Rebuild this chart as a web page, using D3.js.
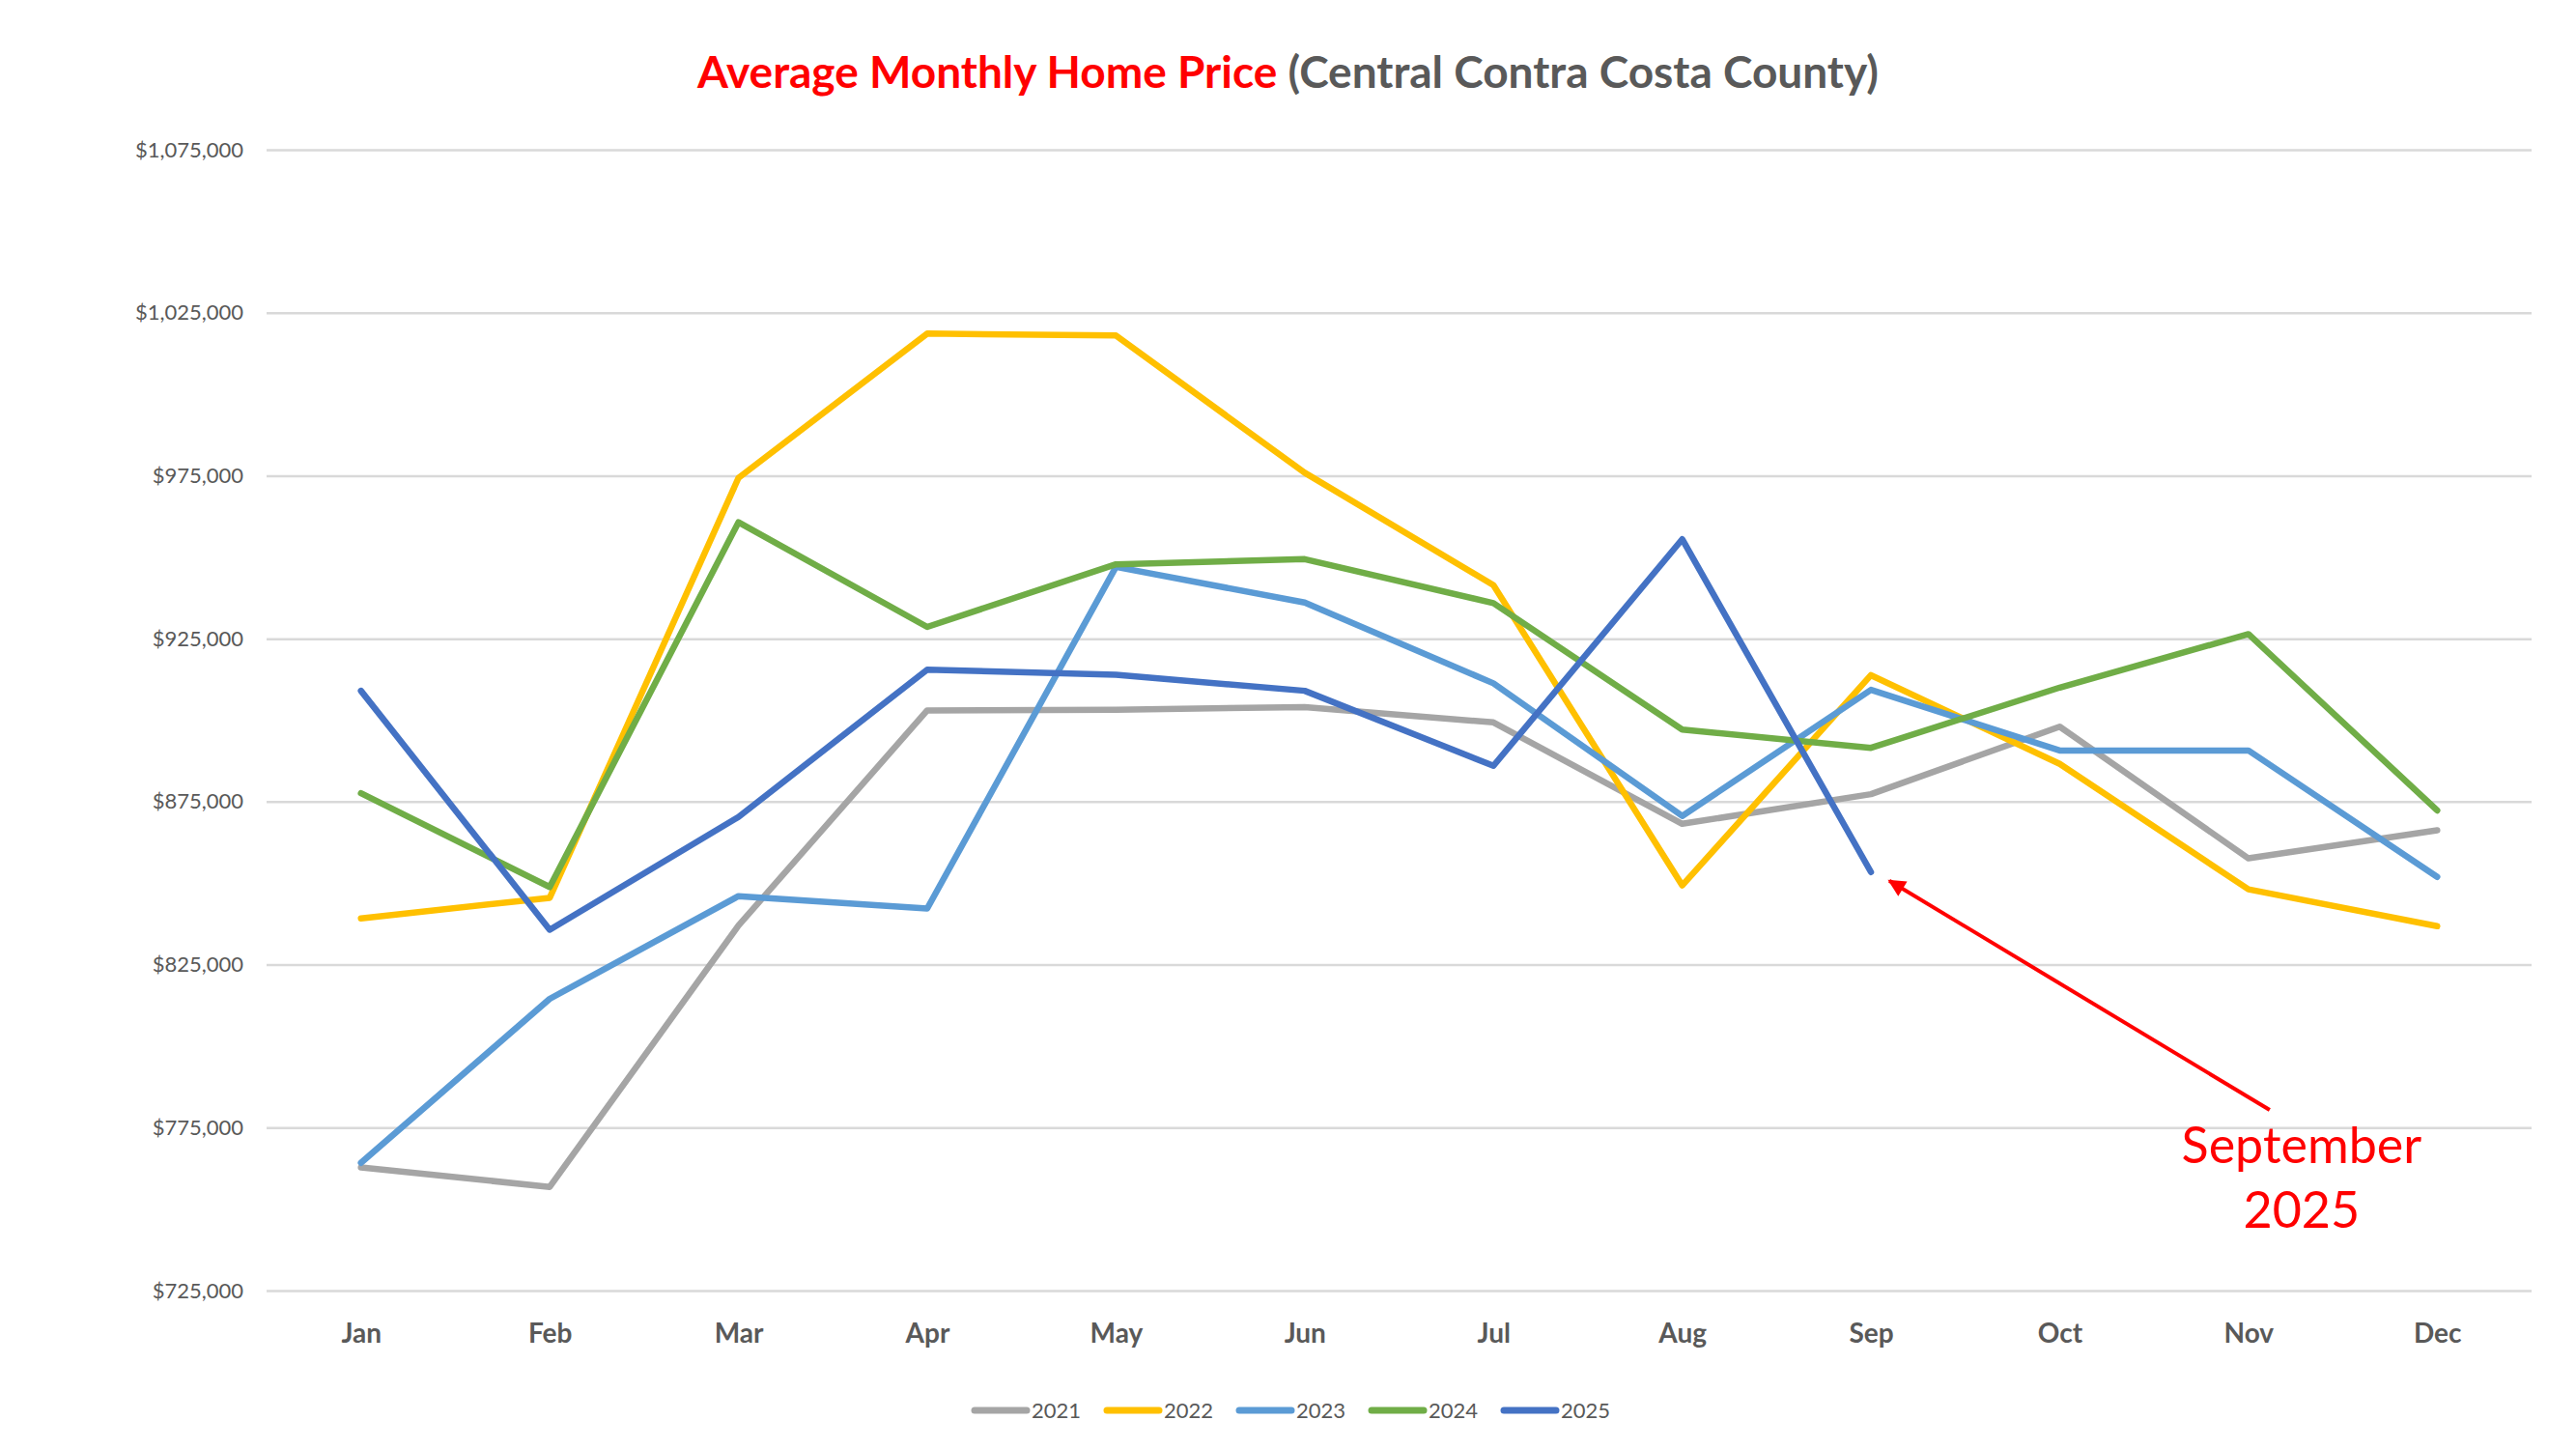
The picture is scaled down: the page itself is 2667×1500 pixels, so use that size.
<!DOCTYPE html>
<html>
<head>
<meta charset="utf-8">
<script src="https://cdn.jsdelivr.net/npm/d3@7"></script>
<style>
  html, body { margin: 0; padding: 0; background: #fff; }
  svg { display: block; font-family: Lato, 'Open Sans', sans-serif; }
</style>
</head>
<body>
<div id="chart"></div>
<script>
var months = ['Jan', 'Feb', 'Mar', 'Apr', 'May', 'Jun', 'Jul', 'Aug', 'Sep', 'Oct', 'Nov', 'Dec']
var years = ['2021', '2022', '2023', '2024', '2025']
var prices2021 = [762800, 756800, 837000, 903000, 903200, 904000, 899300, 868200, 877300, 898000, 857600, 866200]
var prices2022 = [839200, 845500, 974300, 1018600, 1018000, 975900, 941400, 849300, 913800, 886600, 848100, 836800]
var prices2023 = [764200, 814500, 846000, 842200, 947000, 936100, 911300, 870600, 909300, 890700, 890700, 851900]
var prices2024 = [877600, 848800, 960700, 928600, 947800, 949400, 935900, 897100, 891500, 910000, 926400, 872300]
var prices2025 = [909000, 835700, 870300, 915500, 913900, 909000, 886000, 955500, 853400]
var yTicks = [725000, 775000, 825000, 875000, 925000, 975000, 1025000, 1075000]
var colors = ['#A5A5A5', '#FFC000', '#5B9BD5', '#70AD47', '#4472C4']

var series = [prices2021, prices2022, prices2023, prices2024, prices2025]

var w = 2667
var h = 1500
var plotLeft = 276
var plotRight = 2621
var plotTop = 155
var plotBottom = 1336

var svg = d3.select('div#chart').append('svg')
  .attr('width', w)
  .attr('height', h)
  .attr('viewBox', [0, 0, w, h].join(' '))

var x = d3.scalePoint().domain(months).range([plotLeft, plotRight]).padding(0.5)
var y = d3.scaleLinear().domain([725000, 1075000]).range([plotBottom, plotTop])
var fmt = d3.format('$,')

// title
var title = svg.append('text')
  .attr('x', w / 2)
  .attr('y', 91)
  .attr('text-anchor', 'middle')
  .style('font-size', '46px')
  .style('font-weight', 'bold')
title.append('tspan').attr('fill', '#FF0000').text('Average Monthly Home Price ')
title.append('tspan').attr('fill', '#595959').text('(Central Contra Costa County)')

// y axis with gridlines
var yAxis = svg.append('g')
  .attr('transform', 'translate(' + plotLeft + ',0)')
  .call(d3.axisLeft(y).tickValues(yTicks).tickFormat(fmt).tickSize(-(plotRight - plotLeft)).tickPadding(24))
yAxis.select('.domain').remove()
yAxis.selectAll('.tick line').attr('stroke', '#D9D9D9').attr('stroke-width', 2.5)
yAxis.selectAll('.tick text')
  .attr('fill', '#595959')
  .style('font-size', '22px')
  .style('font-family', 'Lato, sans-serif')

// x axis labels
var xAxis = svg.append('g')
  .attr('transform', 'translate(0,' + plotBottom + ')')
  .call(d3.axisBottom(x).tickSize(0).tickPadding(34))
xAxis.select('.domain').remove()
xAxis.selectAll('.tick text')
  .attr('fill', '#595959')
  .style('font-size', '28px')
  .style('font-weight', 'bold')
  .style('font-family', 'Lato, sans-serif')

// lines
var line = d3.line()
  .x(function (d, i) { return x(months[i]) })
  .y(function (d) { return y(d) })

series.forEach(function (s, idx) {
  svg.append('path')
    .datum(s)
    .attr('d', line)
    .attr('fill', 'none')
    .attr('stroke', colors[idx])
    .attr('stroke-width', 6.5)
    .attr('stroke-linejoin', 'round')
    .attr('stroke-linecap', 'round')
})

// annotation arrow + label
svg.append('defs').append('marker')
  .attr('id', 'arrowhead')
  .attr('viewBox', '0 0 10 10')
  .attr('refX', 9)
  .attr('refY', 5)
  .attr('markerWidth', 5.5)
  .attr('markerHeight', 4.5)
  .attr('markerUnits', 'strokeWidth')
  .attr('orient', 'auto')
  .append('path')
  .attr('d', 'M0,0 L10,5 L0,10 z')
  .attr('fill', '#FF0000')

var sepValue = prices2025[8]
svg.append('line')
  .attr('x1', x('Nov') + 22)
  .attr('y1', y(780400))
  .attr('x2', x('Sep') + 19)
  .attr('y2', y(sepValue) + 9)
  .attr('stroke', '#FF0000')
  .attr('stroke-width', 4)
  .attr('marker-end', 'url(#arrowhead)')

var note = svg.append('text')
  .attr('text-anchor', 'middle')
  .attr('fill', '#FF0000')
  .style('font-size', '52px')
note.append('tspan').attr('x', x('Nov') + 55).attr('y', y(765000) + 3).text('September')
note.append('tspan').attr('x', x('Nov') + 55).attr('y', y(765000) + 70).text('2025')

// legend
var legend = svg.append('g').attr('transform', 'translate(1006,1460)')
years.forEach(function (yr, idx) {
  var g = legend.append('g').attr('transform', 'translate(' + idx * 137 + ',0)')
  g.append('line')
    .attr('x1', 3).attr('x2', 57)
    .attr('y1', 0).attr('y2', 0)
    .attr('stroke', colors[idx])
    .attr('stroke-width', 7)
    .attr('stroke-linecap', 'round')
  g.append('text')
    .attr('x', 62)
    .attr('y', 0)
    .attr('dy', '0.35em')
    .attr('fill', '#595959')
    .style('font-size', '22px')
    .text(yr)
})
</script>
</body>
</html>
